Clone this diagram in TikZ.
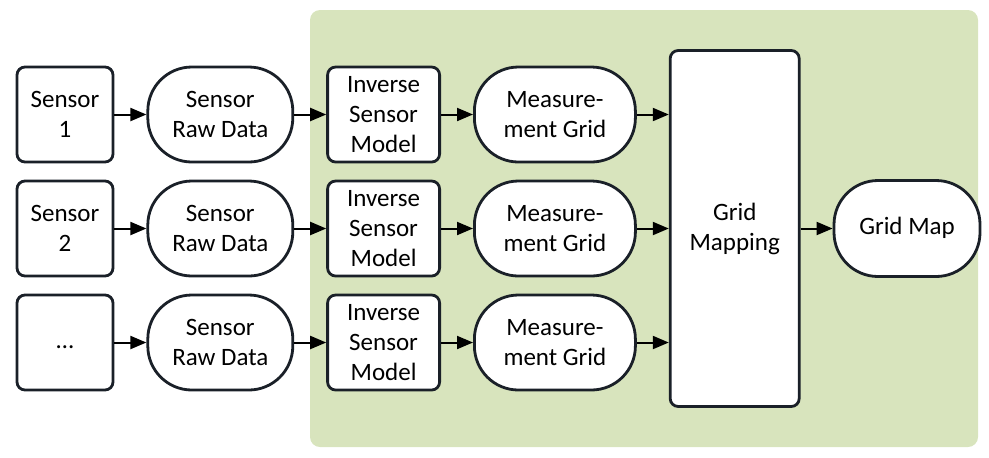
\documentclass[tikz,border=0pt]{standalone}
\usepackage{fontspec}
\setmainfont{Carlito}
\usetikzlibrary{positioning, arrows.meta}
\definecolor{boxline}{RGB}{26, 32, 40}
\definecolor{areagreen}{RGB}{216, 228, 189}

\tikzset{
  block/.style={draw=boxline, line width=1.4pt, fill=white, rounded corners=4pt, align=center,
    minimum height=47.5pt, inner sep=1pt, font=\fontsize{12.5pt}{15pt}\selectfont},
  datablock/.style={block, rounded corners=22pt},
  flow/.style={-{Triangle[length=8pt, width=6.5pt]}, line width=1pt, black},
}

\begin{document}
\begin{tikzpicture}[x=0.5pt, y=-0.5pt]
  \useasboundingbox (0,0) rectangle (989,457);
  % processing area
  \fill[areagreen, rounded corners=5pt] (310,10) rectangle (978,447);

  % one row per sensor
  \foreach \i/\y/\lab in {1/114.5/{Sensor\\1}, 2/228.5/{Sensor\\2}, 3/342.5/{\strut\ldots}} {
    \node[block, minimum width=48pt] (sensor\i) at (65,\y) {\lab};
    \node[datablock, minimum width=72.5pt, right=16pt of sensor\i] (raw\i) {Sensor\\Raw Data};
    \node[block, minimum width=56pt, right=16pt of raw\i] (ism\i) {Inverse\\Sensor\\Model};
    \node[datablock, minimum width=80.5pt, right=16pt of ism\i] (mgrid\i) {Measure-\\ment Grid};
    \draw[flow] (sensor\i) -- (raw\i);
    \draw[flow] (raw\i) -- (ism\i);
    \draw[flow] (ism\i) -- (mgrid\i);
  }

  \node[block, minimum width=64.5pt, minimum height=178pt, right=16pt of mgrid2] (gridmapping) {Grid\\Mapping};
  \node[datablock, minimum width=73pt, minimum height=48pt, right=16pt of gridmapping] (gridmap) {\strut Grid Map};

  \foreach \i in {1,2,3}
    \draw[flow] (mgrid\i.east) -- (mgrid\i.east -| gridmapping.west);
  \draw[flow] (gridmapping) -- (gridmap);
\end{tikzpicture}
\end{document}
